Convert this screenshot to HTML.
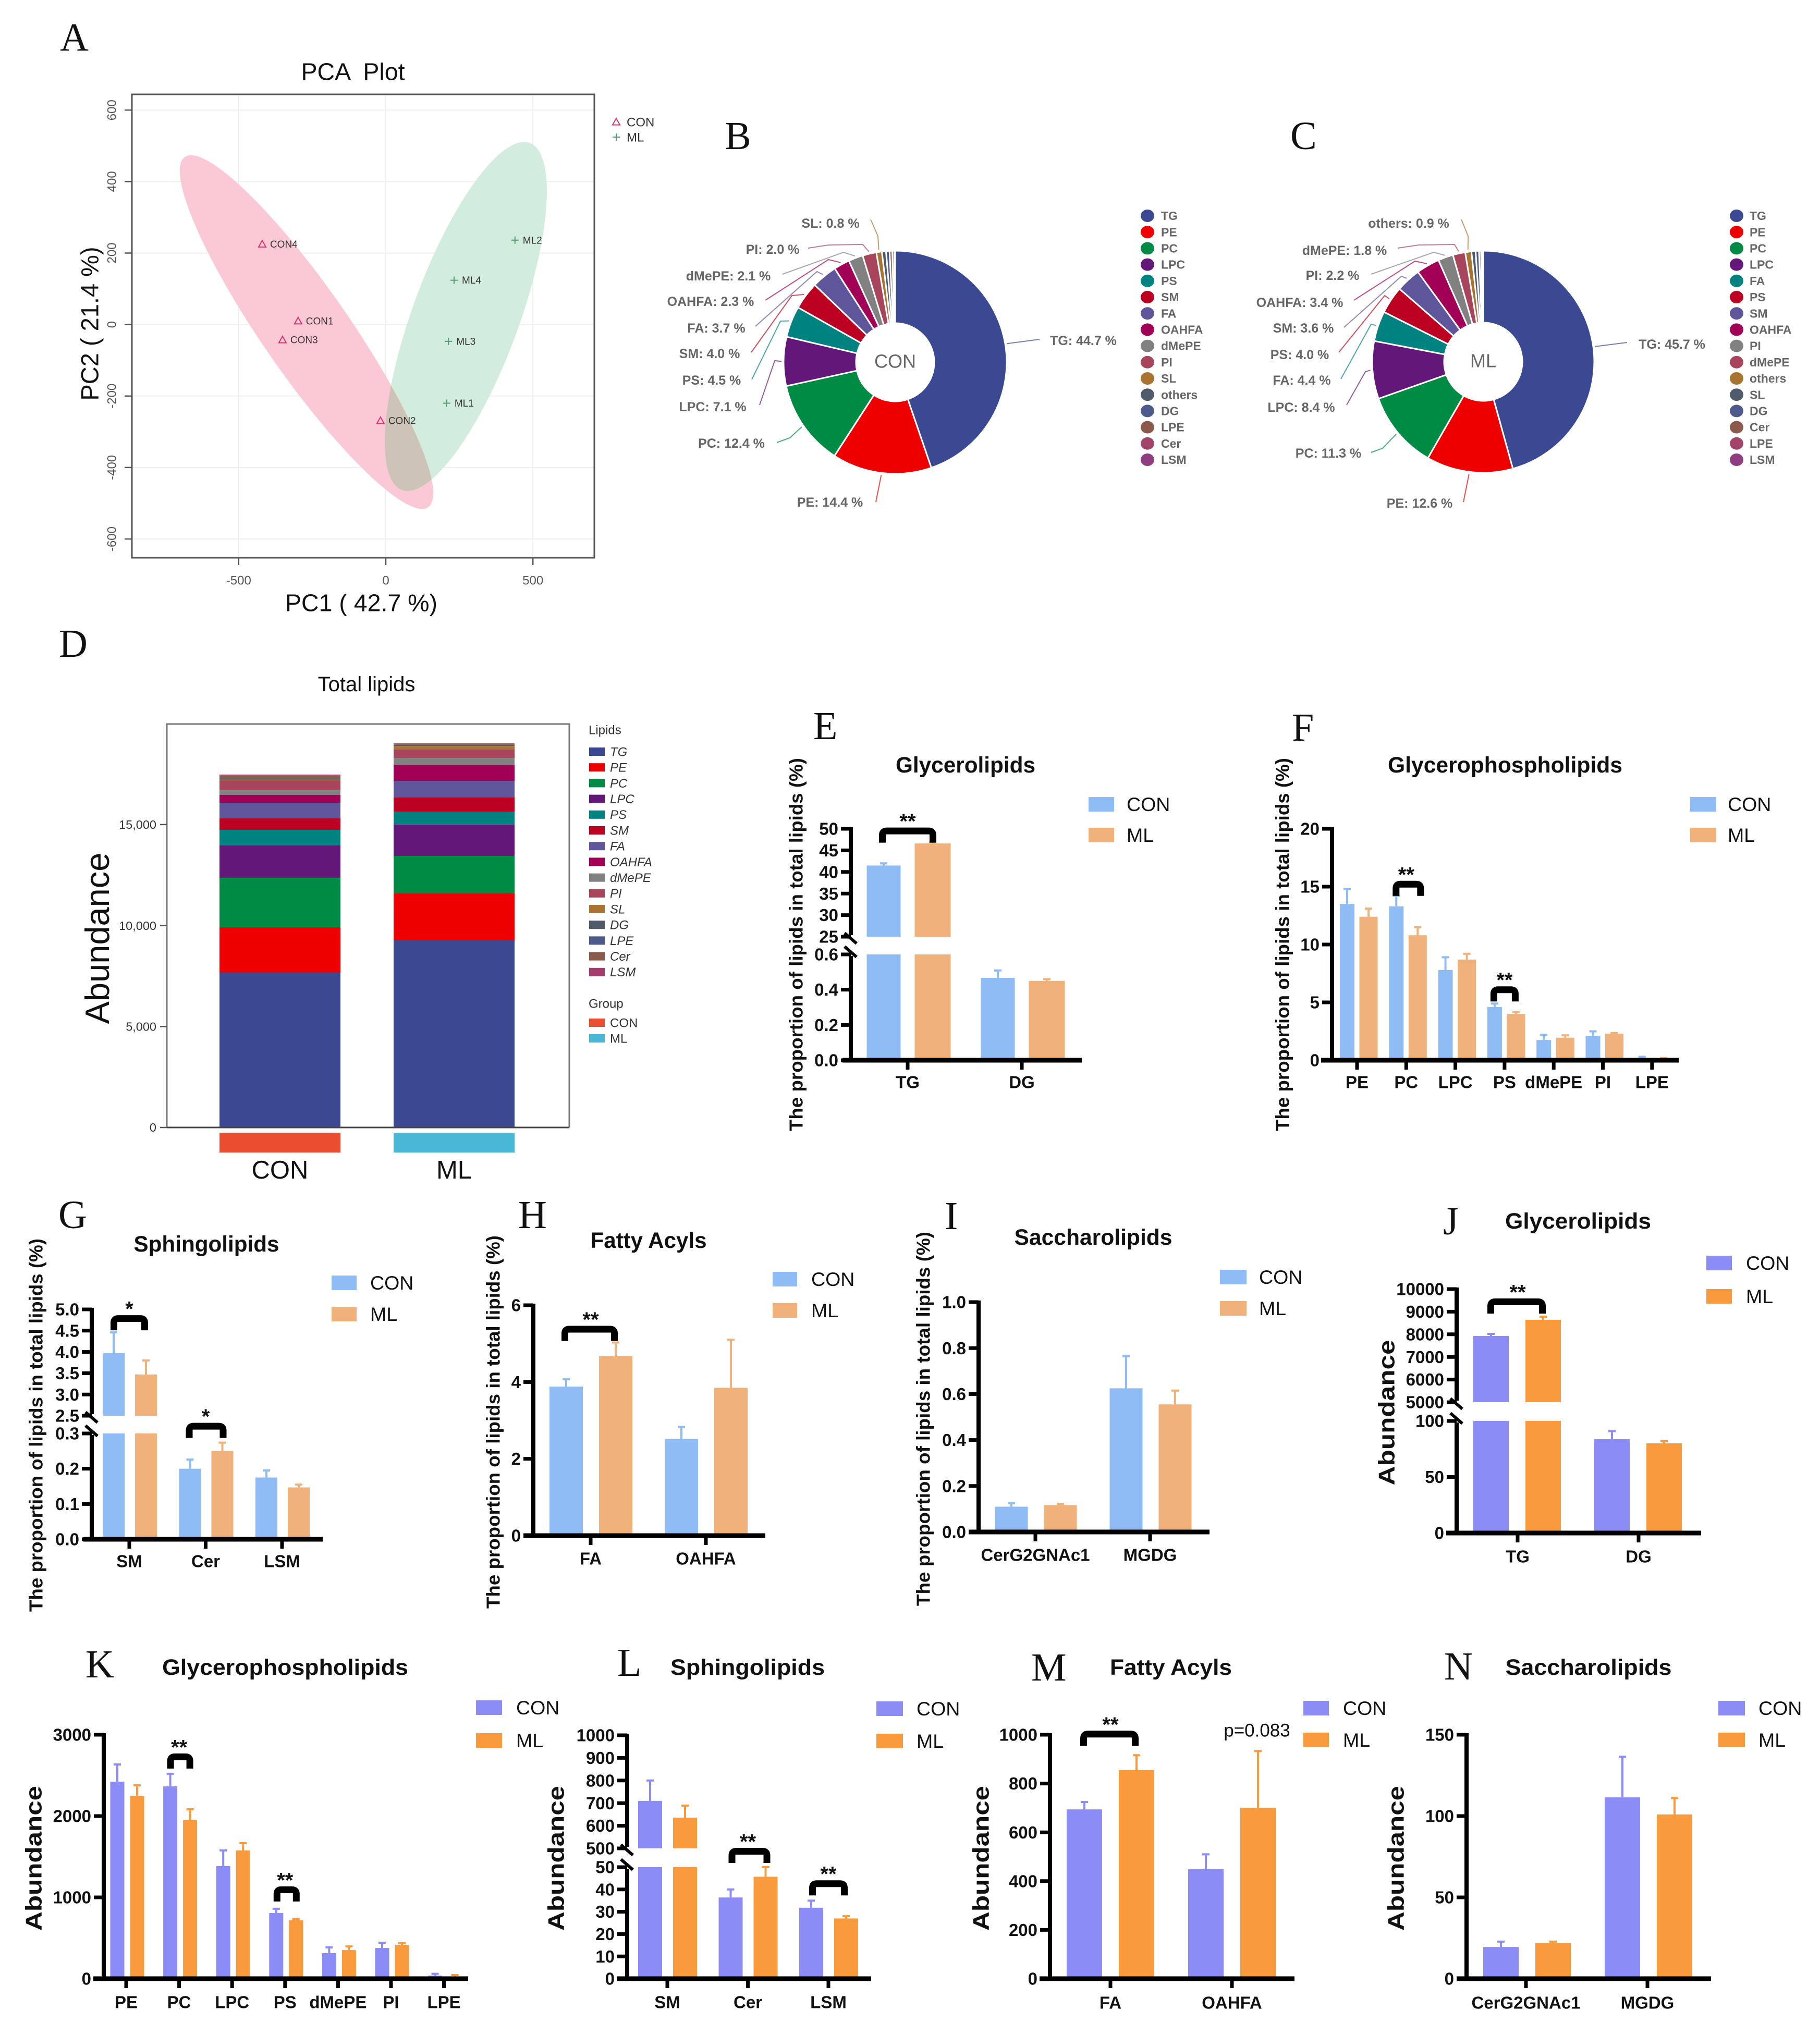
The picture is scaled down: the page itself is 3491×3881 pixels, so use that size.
<!DOCTYPE html>
<html lang="en">
<head>
<meta charset="utf-8">
<title>Lipidomics figure</title>
<style>
html,body{margin:0;padding:0;background:#fff;width:3491px;height:3881px;overflow:hidden}
svg{display:block}
text{font-family:"Liberation Sans",sans-serif;fill:#111}
.letter{font-family:"Liberation Serif",serif;font-size:76px;fill:#111}
.ttl{font-size:43px;font-weight:bold;text-anchor:middle}
.ylab{font-size:36px;font-weight:bold;text-anchor:middle}
.yab{font-size:44px;font-weight:bold;text-anchor:middle}
.pre{white-space:pre}
</style>
</head>
<body>
<svg id="figure" xmlns="http://www.w3.org/2000/svg" width="3491" height="3881" viewBox="0 0 3491 3881">
<rect width="3491" height="3881" fill="#fff"/>
<g>
<text class="letter" x="115" y="97">A</text>
<text class="letter" x="1390" y="286">B</text>
<text class="letter" x="2475" y="286">C</text>
<text class="letter" x="113" y="1260">D</text>
<text class="letter" x="1560" y="1418">E</text>
<text class="letter" x="2478" y="1421">F</text>
<text class="letter" x="112" y="2356">G</text>
<text class="letter" x="994" y="2356">H</text>
<text class="letter" x="1812" y="2358">I</text>
<text class="letter" x="2768" y="2368">J</text>
<text class="letter" x="164" y="3218">K</text>
<text class="letter" x="1184" y="3215">L</text>
<text class="letter" x="1978" y="3224">M</text>
<text class="letter" x="2770" y="3222">N</text>
</g>
<g>
<text class="pre" x="677" y="137" dy=".35em" text-anchor="middle" font-size="46.5">PCA  Plot</text>
<text x="693" y="1156" dy=".35em" text-anchor="middle" font-size="46.5">PC1 ( 42.7 %)</text>
<text transform="translate(172,621) rotate(-90)" dy=".35em" text-anchor="middle" font-size="47">PC2 ( 21.4 %)</text>
<text x="703" y="1312" dy=".35em" text-anchor="middle" font-size="40">Total lipids</text>
<text transform="translate(186,1800) rotate(-90)" dy=".35em" text-anchor="middle" font-size="65">Abundance</text>
</g>
<g>
<text class="ttl" x="1852" y="1467" dy=".35em" textLength="268" lengthAdjust="spacingAndGlyphs">Glycerolipids</text>
<text class="ttl" x="2887" y="1467" dy=".35em" textLength="450" lengthAdjust="spacingAndGlyphs">Glycerophospholipids</text>
<text class="ttl" x="396" y="2386" dy=".35em" textLength="279" lengthAdjust="spacingAndGlyphs">Sphingolipids</text>
<text class="ttl" x="1244" y="2379" dy=".35em" textLength="223" lengthAdjust="spacingAndGlyphs">Fatty Acyls</text>
<text class="ttl" x="2097" y="2373" dy=".35em" textLength="303" lengthAdjust="spacingAndGlyphs">Saccharolipids</text>
<text class="ttl" x="3027" y="2342" dy=".35em" textLength="280" lengthAdjust="spacingAndGlyphs">Glycerolipids</text>
<text class="ttl" x="547" y="3198" dy=".35em" textLength="472" lengthAdjust="spacingAndGlyphs">Glycerophospholipids</text>
<text class="ttl" x="1434" y="3198" dy=".35em" textLength="296" lengthAdjust="spacingAndGlyphs">Sphingolipids</text>
<text class="ttl" x="2246" y="3198" dy=".35em" textLength="234" lengthAdjust="spacingAndGlyphs">Fatty Acyls</text>
<text class="ttl" x="3047" y="3198" dy=".35em" textLength="319" lengthAdjust="spacingAndGlyphs">Saccharolipids</text>
<text x="2411" y="3319" dy=".35em" text-anchor="middle" font-size="35">p=0.083</text>
</g>
<g>
<text class="ylab" transform="translate(1527,1812) rotate(-90)" dy=".35em" textLength="716" lengthAdjust="spacingAndGlyphs">The proportion of lipids in total lipids (%)</text>
<text class="ylab" transform="translate(2460,1812) rotate(-90)" dy=".35em" textLength="716" lengthAdjust="spacingAndGlyphs">The proportion of lipids in total lipids (%)</text>
<text class="ylab" transform="translate(69,2734) rotate(-90)" dy=".35em" textLength="716" lengthAdjust="spacingAndGlyphs">The proportion of lipids in total lipids (%)</text>
<text class="ylab" transform="translate(946,2728) rotate(-90)" dy=".35em" textLength="716" lengthAdjust="spacingAndGlyphs">The proportion of lipids in total lipids (%)</text>
<text class="ylab" transform="translate(1771,2722) rotate(-90)" dy=".35em" textLength="718" lengthAdjust="spacingAndGlyphs">The proportion of lipids in total lipids (%)</text>
<text class="yab" transform="translate(2659,2710) rotate(-90)" dy=".35em" textLength="279" lengthAdjust="spacingAndGlyphs">Abundance</text>
<text class="yab" transform="translate(64,3565) rotate(-90)" dy=".35em" textLength="278" lengthAdjust="spacingAndGlyphs">Abundance</text>
<text class="yab" transform="translate(1066,3565) rotate(-90)" dy=".35em" textLength="278" lengthAdjust="spacingAndGlyphs">Abundance</text>
<text class="yab" transform="translate(1881,3565) rotate(-90)" dy=".35em" textLength="278" lengthAdjust="spacingAndGlyphs">Abundance</text>
<text class="yab" transform="translate(2677,3565) rotate(-90)" dy=".35em" textLength="278" lengthAdjust="spacingAndGlyphs">Abundance</text>
</g>
<g id="charts"></g>
</svg>
<script>
// Panel A: PCA scores
const pcaConNames = ['CON1','CON2','CON3','CON4'];
const pcaConX = [-298,-18,-351,-420];
const pcaConY = [10,-269,-43,225];
const pcaMlNames = ['ML1','ML2','ML3','ML4'];
const pcaMlX = [207,439,213,232];
const pcaMlY = [-220,236,-47,124];
const pcaXTicks = [-500,0,500];
const pcaYTicks = [-600,-400,-200,0,200,400,600];
const pcaConEllipseTips = [-683,469,144,-511];
const pcaMlEllipseTips = [489,508,55,-463];

// Panels B, C: composition donuts
const bNames = ['TG','PE','PC','LPC','PS','SM','FA','OAHFA','dMePE','PI','SL','others','DG','LPE','Cer','LSM'];
const bValues = [44.7,14.4,12.4,7.1,4.5,4.0,3.7,2.3,2.1,2.0,0.8,0.6,0.5,0.4,0.3,0.1];
const cNames = ['TG','PE','PC','LPC','FA','PS','SM','OAHFA','PI','dMePE','others','SL','DG','Cer','LPE','LSM'];
const cValues = [45.7,12.6,11.3,8.4,4.4,4.0,3.6,3.4,2.2,1.8,0.9,0.6,0.5,0.3,0.2,0.1];
const donutColors = ['#3b4992','#ee0000','#008b45','#631879','#008280','#bb0021','#5f559b','#a20056','#808180','#a8445c','#a8742f','#4f5b6b','#4c5a8c','#8c5a4a','#a3446a','#8f3c80'];

// Panel D: stacked abundance
const dNames = ['TG','PE','PC','LPC','PS','SM','FA','OAHFA','dMePE','PI','SL','DG','LPE','Cer','LSM'];
const dCon = [7667,2245,2453,1600,775,567,775,387,258,464,40,40,30,140,34];
const dMl = [9267,2323,1859,1551,643,697,826,774,360,415,177,40,20,68,10];
const dGroups = ['CON','ML'];
const dTicks = [0,5000,10000,15000];
const dColors = ['#3b4992','#ee0000','#008b45','#631879','#008280','#bb0021','#5f559b','#a20056','#808180','#a8445c','#a8742f','#4f5b6b','#4c5a8c','#8c5a4a','#a33c6c'];

// Bar panels E-N: bar height and error-bar top for each group
const eCategories = ['TG','DG'];
const eCon = [41.5,0.467];
const eConErr = [42,0.509];
const eMl = [46.6,0.45];
const eMlErr = [46.9,0.46];
const eTicks = ['0.0','0.2','0.4','0.6','25','30','35','40','45','50'];

const fCategories = ['PE','PC','LPC','PS','dMePE','PI','LPE'];
const fCon = [13.5,13.3,7.8,4.6,1.75,2.1,0.2];
const fConErr = [14.8,14.2,8.9,4.9,2.2,2.5,0.3];
const fMl = [12.4,10.8,8.7,4.0,1.95,2.3,0.15];
const fMlErr = [13.1,11.5,9.2,4.15,2.15,2.35,0.2];
const fTicks = ['0','5','10','15','20'];

const gCategories = ['SM','Cer','LSM'];
const gCon = [3.97,0.2,0.175];
const gConErr = [4.46,0.226,0.195];
const gMl = [3.47,0.25,0.147];
const gMlErr = [3.8,0.274,0.155];
const gTicks = ['0.0','0.1','0.2','0.3','2.5','3.0','3.5','4.0','4.5','5.0'];

const hCategories = ['FA','OAHFA'];
const hCon = [3.88,2.52];
const hConErr = [4.07,2.83];
const hMl = [4.67,3.85];
const hMlErr = [5.03,5.1];
const hTicks = ['0','2','4','6'];

const iCategories = ['CerG2GNAc1','MGDG'];
const iCon = [0.11,0.625];
const iConErr = [0.125,0.765];
const iMl = [0.117,0.555];
const iMlErr = [0.122,0.615];
const iTicks = ['0.0','0.2','0.4','0.6','0.8','1.0'];

const jCategories = ['TG','DG'];
const jCon = [7926,83.7];
const jConErr = [8018,91];
const jMl = [8640,80];
const jMlErr = [8779,82];
const jTicks = ['0','50','100','5000','6000','7000','8000','9000','10000'];

const kCategories = ['PE','PC','LPC','PS','dMePE','PI','LPE'];
const kCon = [2423,2365,1385,808,314,378,38];
const kConErr = [2635,2520,1577,860,385,442,60];
const kMl = [2250,1950,1577,718,352,417,25];
const kMlErr = [2378,2083,1667,737,397,436,45];
const kTicks = ['0','1000','2000','3000'];

const lCategories = ['SM','Cer','LSM'];
const lCon = [710,36.4,31.8];
const lConErr = [800,40,35];
const lMl = [636,45.7,27];
const lMlErr = [689,50,28];
const lTicks = ['0','10','20','30','40','50','500','600','700','800','900','1000'];

const mCategories = ['FA','OAHFA'];
const mCon = [694,449];
const mConErr = [724,510];
const mMl = [855,700];
const mMlErr = [916,933];
const mTicks = ['0','200','400','600','800','1000'];

const nCategories = ['CerG2GNAc1','MGDG'];
const nCon = [19.5,111.5];
const nConErr = [22.8,136.5];
const nMl = [21.8,101];
const nMlErr = [22.8,111];
const nTicks = ['0','50','100','150'];

const NS = 'http://www.w3.org/2000/svg';
const root = document.getElementById('charts');
function mk(tag, attrs, parent, text) {
  const el = document.createElementNS(NS, tag);
  for (const k in attrs) el.setAttribute(k, attrs[k]);
  if (text !== undefined) el.textContent = text;
  parent.appendChild(el);
  return el;
}

function drawPca() {
  const g = mk('g', {}, root);
  
  
  const x = v => 740 + 0.5644 * v;
  const y = v => 622.6 - 0.6857 * v;
  const L = 253, R = 1140, T = 181, B = 1070;
  pcaXTicks.forEach(t => {
    const gl = mk('line', {x1:x(t), x2:x(t), y1:T, y2:B, stroke:'#efefef', 'stroke-width':2}, g);
    
    
  });
  pcaYTicks.forEach(t => {
    const gl = mk('line', {x1:L, x2:R, y1:y(t), y2:y(t), stroke:'#efefef', 'stroke-width':2}, g);
    
    
  });
  const ellAttrs = (tips, b) => {
    const x1 = x(tips[0]), y1 = y(tips[1]), x2 = x(tips[2]), y2 = y(tips[3]);
    const cx = (x1 + x2) / 2, cy = (y1 + y2) / 2;
    const a = Math.hypot(x2 - x1, y2 - y1) / 2;
    const ang = Math.atan2(y2 - y1, x2 - x1) * 180 / Math.PI;
    return {cx, cy, rx:a, ry:b, transform:`rotate(${ang} ${cx} ${cy})`};
  };
  const pinkA = ellAttrs(pcaConEllipseTips, 83);
  const greenA = ellAttrs(pcaMlEllipseTips, 102);
  const pink = mk('ellipse', Object.assign({fill:'#fbc9d6'}, pinkA), g);
  
  
  const green = mk('ellipse', Object.assign({fill:'#d2ecdd'}, greenA), g);
  
  
  const cp = mk('clipPath', {id:'pca-con-clip'}, g);
  mk('ellipse', pinkA, cp);
  const overGroup = mk('g', {'clip-path':'url(#pca-con-clip)'}, g);
  
  
  const over = mk('ellipse', Object.assign({fill:'#cdc3b6'}, greenA), overGroup);
  
  
  const box = mk('rect', {x:L, y:T, width:R-L, height:B-T, fill:'none', stroke:'#555', 'stroke-width':3}, g);
  
  
  pcaXTicks.forEach(t => {
    const tk = mk('line', {x1:x(t), x2:x(t), y1:B, y2:B+14, stroke:'#555', 'stroke-width':2.5}, g);
    
    
    const lb = mk('text', {x:x(t), y:1113, dy:'.35em', 'text-anchor':'middle', 'font-size':24, style:'fill:#555'}, g, String(t));
    
    
  });
  pcaYTicks.forEach(t => {
    const tk = mk('line', {x1:L-14, x2:L, y1:y(t), y2:y(t), stroke:'#555', 'stroke-width':2.5}, g);
    
    
    const lb = mk('text', {transform:`translate(214,${y(t)}) rotate(-90)`, dy:'.35em', 'text-anchor':'middle', 'font-size':24, style:'fill:#555'}, g, String(t));
    
    
  });
  const tri = (cx, cy, s) => `${cx},${cy-s} ${cx+s},${cy+s*0.8} ${cx-s},${cy+s*0.8}`;
  pcaConNames.forEach((n, i) => {
    const px = x(pcaConX[i]), py = y(pcaConY[i]);
    const p = mk('polygon', {points:tri(px, py, 7), fill:'none', stroke:'#d8336a', 'stroke-width':2}, g);
    
    
    const lb = mk('text', {x:px+15, y:py, dy:'.35em', 'font-size':19, style:'fill:#333'}, g, n);
    
    
  });
  pcaMlNames.forEach((n, i) => {
    const px = x(pcaMlX[i]), py = y(pcaMlY[i]);
    const p = mk('path', {d:`M${px-7} ${py}H${px+7}M${px} ${py-7}V${py+7}`, fill:'none', stroke:'#4f9a70', 'stroke-width':2}, g);
    
    
    const lb = mk('text', {x:px+15, y:py, dy:'.35em', 'font-size':19, style:'fill:#333'}, g, n);
    
    
  });
  const lt = mk('polygon', {points:tri(1182, 234, 7), fill:'none', stroke:'#d8336a', 'stroke-width':2}, g);
  
  
  const ltx = mk('text', {x:1202, y:234, dy:'.35em', 'font-size':24, style:'fill:#333'}, g, 'CON');
  
  
  const lp = mk('path', {d:'M1175 263H1189M1182 256V270', fill:'none', stroke:'#4f9a70', 'stroke-width':2}, g);
  
  
  const lpx = mk('text', {x:1202, y:263, dy:'.35em', 'font-size':24, style:'fill:#333'}, g, 'ML');
  
  
}

function drawDonut(prefix, names, values, center, cx, cy, Ro, Ri, layout, dotX, textX) {
  const g = mk('g', {}, root);
  
  
  const total = values.reduce((a, b) => a + b, 0);
  let cum = 0;
  const pt = (frac, r) => {
    const a = frac * 2 * Math.PI;
    return [cx + r * Math.sin(a), cy - r * Math.cos(a)];
  };
  values.forEach((v, i) => {
    const s = cum / total, e = (cum + v) / total, mid = (s + e) / 2;
    cum += v;
    const p1 = pt(s, Ro), p2 = pt(e, Ro), p3 = pt(e, Ri), p4 = pt(s, Ri);
    const big = e - s > 0.5 ? 1 : 0;
    const d = `M${p1[0]} ${p1[1]}A${Ro} ${Ro} 0 ${big} 1 ${p2[0]} ${p2[1]}L${p3[0]} ${p3[1]}A${Ri} ${Ri} 0 ${big} 0 ${p4[0]} ${p4[1]}Z`;
    const sl = mk('path', {d, fill:donutColors[i], stroke:'#fff', 'stroke-width':3}, g);
    
    
    if (layout[i]) {
      const edge = pt(mid, Ro + 4);
      const pts = layout[i].line.concat([edge]).map(q => q.join(',')).join(' ');
      const ln = mk('polyline', {points:pts, fill:'none', stroke:donutColors[i], 'stroke-width':2, opacity:0.7}, g);
      
      
      const lb = mk('text', {x:layout[i].x, y:layout[i].y, dy:'.35em', 'text-anchor':'middle', 'font-size':25, 'font-weight':'bold', style:'fill:#666'}, g, `${names[i]}: ${v.toFixed(1)} %`);
      
      
    }
    const dot = mk('ellipse', {cx:dotX, cy:414 + i * 31.2, rx:13, ry:12, fill:donutColors[i]}, g);
    
    
    const tx = mk('text', {x:textX, y:414 + i * 31.2, dy:'.35em', 'font-size':23, 'font-weight':'bold', style:'fill:#666'}, g, names[i]);
    
    
  });
  const c = mk('text', {x:cx, y:cy - 2, dy:'.35em', 'text-anchor':'middle', 'font-size':36, style:'fill:#666'}, g, center);
  
  
}

function drawDonuts() {
  const bLayout = [
    {x:2078,y:653,line:[[1994,651]]},
    {x:1592,y:963,line:[[1680,963]]},
    {x:1403,y:850,line:[[1490,849],[1515,840]]},
    {x:1367,y:780,line:[[1457,777],[1486,692]]},
    {x:1365,y:729,line:[[1442,728],[1497,616]]},
    {x:1361,y:678,line:[[1441,676],[1519,567]]},
    {x:1374,y:629,line:[[1449,626],[1567,521]]},
    {x:1363,y:578,line:[[1468,576],[1589,498]]},
    {x:1397,y:529,line:[[1501,526],[1618,484]]},
    {x:1482,y:478,line:[[1550,476],[1589,470],[1655,469]]},
    {x:1593,y:428,line:[[1670,421],[1684,453]]}
  ];
  const cLayout = [
    {x:3207,y:660,line:[[3121,657]]},
    {x:2723,y:965,line:[[2807,963]]},
    {x:2548,y:869,line:[[2630,868],[2652,860]]},
    {x:2496,y:781,line:[[2583,777],[2619,713]]},
    {x:2497,y:729,line:[[2572,727],[2630,622]]},
    {x:2493,y:680,line:[[2568,676],[2656,567]]},
    {x:2500,y:629,line:[[2578,628],[2688,530]]},
    {x:2493,y:580,line:[[2597,576],[2714,501]]},
    {x:2556,y:528,line:[[2630,526],[2750,484]]},
    {x:2579,y:480,line:[[2681,476],[2721,470],[2790,469]]},
    {x:2702,y:428,line:[[2803,421],[2816,453]]}
  ];
  drawDonut('con', bNames, bValues, 'CON', 1717, 695, 214, 75, bLayout, 2201, 2227);
  drawDonut('ml', cNames, cValues, 'ML', 2845, 694, 213, 75, cLayout, 3331, 3356);
}

function drawStacked() {
  const g = mk('g', {}, root);
  
  
  const y = v => 2163 - 0.03874 * v;
  const L = 320, R = 1092, T = 1389, B = 2163;
  const series = [dCon, dMl];
  const bandX = [421, 755];
  const bandW = 232;
  const stripColors = ['#ea4d30', '#48b8d6'];
  series.forEach((vals, gi) => {
    let cum = 0;
    vals.forEach((v, i) => {
      const r = mk('rect', {x:bandX[gi], y:y(cum + v), width:bandW, height:y(cum) - y(cum + v), fill:dColors[i]}, g);
      
      
      cum += v;
    });
    const st = mk('rect', {x:bandX[gi], y:2173, width:bandW, height:38, fill:stripColors[gi]}, g);
    
    
    const lb = mk('text', {x:bandX[gi] + bandW / 2, y:2261, 'text-anchor':'middle', 'font-size':49}, g, dGroups[gi]);
    
    
  });
  const fr = mk('path', {d:`M${L} ${B}V${T}H${R}V${B}`, fill:'none', stroke:'#777', 'stroke-width':3}, g);
  
  
  const ax = mk('line', {x1:L, x2:R, y1:B, y2:B, stroke:'#444', 'stroke-width':3}, g);
  
  
  dTicks.forEach(t => {
    const tk = mk('line', {x1:L-13, x2:L, y1:y(t), y2:y(t), stroke:'#555', 'stroke-width':2.5}, g);
    
    
    const lb = mk('text', {x:300, y:y(t), dy:'.35em', 'text-anchor':'end', 'font-size':23.5, style:'fill:#333'}, g, t.toLocaleString('en-US'));
    
    
  });
  const h1 = mk('text', {x:1129, y:1400, dy:'.35em', 'font-size':24, style:'fill:#333'}, g, 'Lipids');
  
  
  dNames.forEach((n, i) => {
    const cy = 1442 + i * 30.2;
    const sw = mk('rect', {x:1130, y:cy-8, width:30, height:16, fill:dColors[i]}, g);
    
    
    const tx = mk('text', {x:1170, y:cy, dy:'.35em', 'font-size':24, 'font-style':'italic', style:'fill:#333'}, g, n);
    
    
  });
  const h2 = mk('text', {x:1129, y:1925, dy:'.35em', 'font-size':24, style:'fill:#333'}, g, 'Group');
  
  
  dGroups.forEach((n, i) => {
    const cy = 1962 + i * 30;
    const sw = mk('rect', {x:1130, y:cy-8, width:30, height:16, fill:stripColors[i]}, g);
    
    
    const tx = mk('text', {x:1170, y:cy, dy:'.35em', 'font-size':24, style:'fill:#333'}, g, n);
    
    
  });
}

const PCT = ['#8fbcf5', '#f0b27a'];
const ABD = ['#8c8cf7', '#f99b3c'];

function drawBars(c) {
  const g = mk('g', {}, root);
  
  
  const segs = c.segs;
  const yOf = v => {
    for (let i = 0; i < segs.length; i++) {
      const s = segs[i];
      if (v <= s.d[1] || i === segs.length - 1) {
        const cl = Math.max(v, s.d[0]);
        return s.p[0] + (cl - s.d[0]) / (s.d[1] - s.d[0]) * (s.p[1] - s.p[0]);
      }
    }
  };
  const base = segs[0].p[0];
  const sets = [[c.con, c.conErr, c.off[0], c.colors[0], 'con', c.w], [c.ml, c.mlErr, c.off[1], c.colors[1], 'ml', c.w2 || c.w]];
  c.cats.forEach((cat, i) => {
    const cx = c.x0 + i * c.step;
    sets.forEach(st => {
      const v = st[0][i], e = st[1][i], bx = cx + st[2], bw = st[5];
      segs.forEach(s => {
        if (v > s.d[0]) {
          const top = yOf(Math.min(v, s.d[1]));
          const r = mk('rect', {x:bx - bw / 2, y:top, width:bw, height:s.p[0] - top, fill:st[3]}, g);
          
          
        }
      });
      const eb = mk('path', {d:`M${bx} ${yOf(v)}V${yOf(e)}M${bx-7} ${yOf(e)}H${bx+7}`, fill:'none', stroke:st[3], 'stroke-width':4}, g);
      
      
    });
  });
  segs.forEach((s, si) => {
    const lo = si === 0 ? s.p[0] + 3 : s.p[0] - 3;
    const hi = si === segs.length - 1 ? s.p[1] - 3 : s.p[1] + 3;
    const al = mk('line', {x1:c.ax, x2:c.ax, y1:lo, y2:hi, stroke:'#000', 'stroke-width':8}, g);
    
    
  });
  if (segs.length > 1) {
    [segs[0].p[1] - 5, segs[1].p[0] + 3].forEach(by => {
      const br = mk('line', {x1:c.ax-12, y1:by-10, x2:c.ax+11, y2:by+10, stroke:'#000', 'stroke-width':6}, g);
      
      
    });
  }
  const xl = mk('line', {x1:c.xl, x2:c.xr, y1:base, y2:base, stroke:'#000', 'stroke-width':9}, g);
  
  
  c.ticks.forEach(t => {
    const ty = yOf(Number(t));
    const tk = mk('line', {x1:c.ax - 19, x2:c.ax, y1:ty, y2:ty, stroke:'#000', 'stroke-width':7}, g);
    
    
    const lb = mk('text', {x:c.ax - 24, y:ty, dy:'.35em', 'text-anchor':'end', 'font-size':33, 'font-weight':'bold'}, g, t);
    
    
  });
  c.cats.forEach((cat, i) => {
    const cx = c.x0 + i * c.step;
    const tk = mk('line', {x1:cx, x2:cx, y1:base, y2:base + 18, stroke:'#000', 'stroke-width':7}, g);
    
    
    const lb = mk('text', {x:cx, y:c.xLabelY, dy:'.35em', 'text-anchor':'middle', 'font-size':33, 'font-weight':'bold'}, g, cat);
    
    
  });
  (c.sig || []).forEach(s => {
    const hi = Math.max(c.conErr[s.cat], c.mlErr[s.cat]);
    const legB = yOf(hi) - s.gap + 2;
    const tp = legB - 29 + 6.5;
    const cx = c.x0 + s.cat * c.step + s.shift;
    const h = s.half - 6.5;
    const d = `M${cx-h} ${legB}V${tp+8}Q${cx-h} ${tp} ${cx-h+8} ${tp}H${cx+h-8}Q${cx+h} ${tp} ${cx+h} ${tp+8}V${legB}`;
    const b = mk('path', {d, fill:'none', stroke:'#000', 'stroke-width':13}, g);
    
    
    const st = mk('text', {x:c.x0 + s.cat * c.step, y:tp - 5, 'text-anchor':'middle', 'font-size':40, 'font-weight':'bold'}, g, s.mark);
    
    
  });
  const lg = c.legend;
  ['CON', 'ML'].forEach((n, i) => {
    const cy = lg.ys[i];
    const sw = mk('rect', {x:lg.sx, y:cy - 14, width:lg.sw, height:28, fill:c.colors[i]}, g);
    
    
    const tx = mk('text', {x:lg.tx - 1, y:cy, dy:'.35em', 'font-size':37.5}, g, n);
    
    
  });
}

function drawAllBars() {
  drawBars({id:'e', cats:eCategories, con:eCon, conErr:eConErr, ml:eMl, mlErr:eMlErr, ticks:eTicks, colors:PCT,
    segs:[{d:[0,0.6],p:[2034,1831]},{d:[25,50],p:[1797,1590]}],
    x0:1741, step:219, off:[-46,48], w:65, w2:69, ax:1632, xl:1616, xr:2075, xLabelY:2076,
    sig:[{cat:0,mark:'**',half:55,gap:1,shift:0}],
    legend:{sx:2088,sw:49,tx:2162,ys:[1543,1602]}});
  drawBars({id:'f', cats:fCategories, con:fCon, conErr:fConErr, ml:fMl, mlErr:fMlErr, ticks:fTicks, colors:PCT,
    segs:[{d:[0,20],p:[2034,1590]}],
    x0:2603, step:94.3, off:[-19,22], w:28, w2:35, ax:2555, xl:2534, xr:3220, xLabelY:2076,
    sig:[{cat:1,mark:'**',half:30,gap:2,shift:4},{cat:3,mark:'**',half:27,gap:6,shift:0}],
    legend:{sx:3242,sw:50,tx:3315,ys:[1543,1602]}});
  drawBars({id:'g', cats:gCategories, con:gCon, conErr:gConErr, ml:gMl, mlErr:gMlErr, ticks:gTicks, colors:PCT,
    segs:[{d:[0,0.3],p:[2953,2750]},{d:[2.5,5],p:[2716,2512]}],
    x0:248, step:146.5, off:[-30,32], w:42, ax:176, xl:160, xr:619, xLabelY:2995,
    sig:[{cat:0,mark:'*',half:36,gap:6,shift:0},{cat:1,mark:'*',half:39,gap:11,shift:1}],
    legend:{sx:636,sw:48,tx:711,ys:[2461,2521]}});
  drawBars({id:'h', cats:hCategories, con:hCon, conErr:hConErr, ml:hMl, mlErr:hMlErr, ticks:hTicks, colors:PCT,
    segs:[{d:[0,6],p:[2946,2504]}],
    x0:1133, step:221, off:[-47,48], w:64, ax:1023, xl:1004, xr:1468, xLabelY:2990,
    sig:[{cat:0,mark:'**',half:54,gap:5,shift:-2}],
    legend:{sx:1482,sw:47,tx:1557,ys:[2454,2514]}});
  drawBars({id:'i', cats:iCategories, con:iCon, conErr:iConErr, ml:iMl, mlErr:iMlErr, ticks:iTicks, colors:PCT,
    segs:[{d:[0,1],p:[2939,2498]}],
    x0:1986, step:220, off:[-46,48], w:63, ax:1877, xl:1858, xr:2320, xLabelY:2983,
    legend:{sx:2340,sw:51,tx:2416,ys:[2450,2510]}});
  drawBars({id:'j', cats:jCategories, con:jCon, conErr:jConErr, ml:jMl, mlErr:jMlErr, ticks:jTicks, colors:ABD,
    segs:[{d:[0,100],p:[2941,2726]},{d:[5000,10000],p:[2690,2473]}],
    x0:2911, step:232, off:[-51,49], w:68, ax:2794, xl:2774, xr:3263, xLabelY:2986,
    sig:[{cat:0,mark:'**',half:56,gap:8,shift:-2}],
    legend:{sx:3273,sw:49,tx:3350,ys:[2423,2487]}});
  drawBars({id:'k', cats:kCategories, con:kCon, conErr:kConErr, ml:kMl, mlErr:kMlErr, ticks:kTicks, colors:ABD,
    segs:[{d:[0,3000],p:[3796,3328]}],
    x0:242, step:101.6, off:[-17,21], w:27, ax:199, xl:179, xr:898, xLabelY:3841,
    sig:[{cat:1,mark:'**',half:25,gap:12,shift:2},{cat:3,mark:'**',half:25,gap:16,shift:3}],
    legend:{sx:913,sw:50,tx:991,ys:[3276,3339]}});
  drawBars({id:'l', cats:lCategories, con:lCon, conErr:lConErr, ml:lMl, mlErr:lMlErr, ticks:lTicks, colors:ABD,
    segs:[{d:[0,50],p:[3796,3582]},{d:[500,1000],p:[3546,3329]}],
    x0:1280, step:154.5, off:[-33,34], w:46, ax:1203, xl:1183, xr:1671, xLabelY:3841,
    sig:[{cat:1,mark:'**',half:40,gap:10,shift:3},{cat:2,mark:'**',half:37,gap:12,shift:0}],
    legend:{sx:1681,sw:51,tx:1759,ys:[3278,3340]}});
  drawBars({id:'m', cats:mCategories, con:mCon, conErr:mConErr, ml:mMl, mlErr:mMlErr, ticks:mTicks, colors:ABD,
    segs:[{d:[0,1000],p:[3796,3328]}],
    x0:2130, step:233, off:[-50,50], w:68, ax:2014, xl:1994, xr:2483, xLabelY:3842,
    sig:[{cat:0,mark:'**',half:56,gap:20,shift:-2}],
    legend:{sx:2500,sw:49,tx:2577,ys:[3277,3338]}});
  drawBars({id:'n', cats:nCategories, con:nCon, conErr:nConErr, ml:nMl, mlErr:nMlErr, ticks:nTicks, colors:ABD,
    segs:[{d:[0,150],p:[3796,3328]}],
    x0:2927, step:233, off:[-48,52], w:68, ax:2813, xl:2794, xr:3282, xLabelY:3842,
    legend:{sx:3296,sw:51,tx:3374,ys:[3277,3338]}});
}

drawPca();
drawDonuts();
drawStacked();
drawAllBars();
</script>
</body>
</html>
